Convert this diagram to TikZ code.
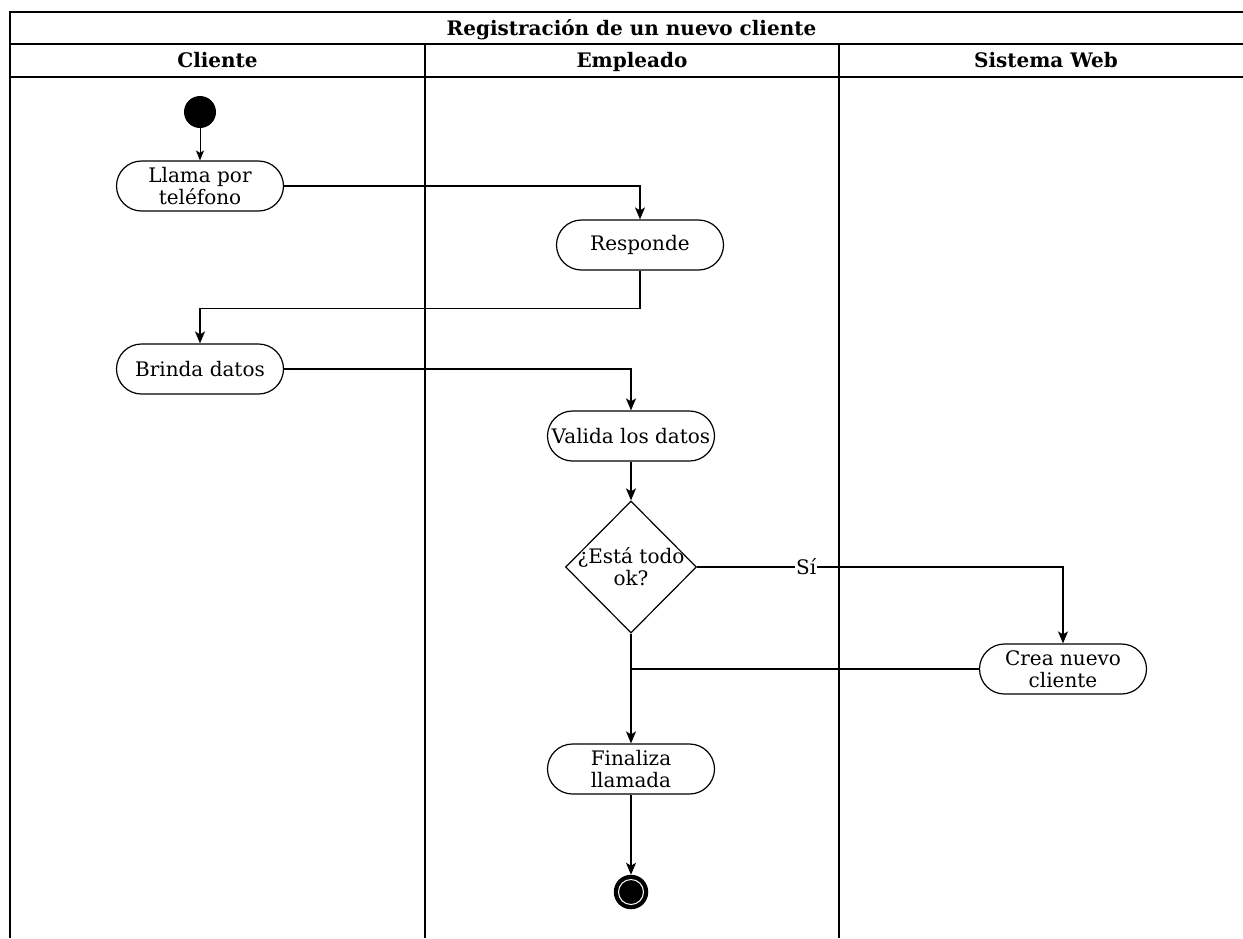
\documentclass[tikz,border=0pt]{standalone}
\usepackage{fontspec}
\setmainfont{DejaVu Serif}
\usetikzlibrary{arrows.meta,shapes.geometric}
\begin{document}
\begin{tikzpicture}[x=1pt,y=-1pt,
  lane/.style={line width=1.5pt},
  txt/.style={font=\fontsize{20}{22}\selectfont, align=center, inner sep=0pt},
  head/.style={font=\bfseries\fontsize{20}{22}\selectfont, inner sep=0pt, anchor=base},
  action/.style={txt, draw, line width=1.2pt, rounded corners=25pt,
    minimum width=167pt, minimum height=50pt},
  decision/.style={draw, diamond, line width=1.2pt, inner sep=0pt,
    minimum width=131pt, minimum height=132pt},
  initial/.style={circle, fill=black, minimum size=32pt, inner sep=0pt},
  final/.style={circle, draw, fill=black, line width=1.5pt, minimum size=33pt, inner sep=0pt},
  flow/.style={line width=1.5pt, -{Stealth[length=12pt,width=10pt,inset=3pt]}},
  thinflow/.style={line width=1pt, -{Stealth[length=10pt,width=8pt,inset=2.5pt]}},
  plain/.style={line width=1.5pt}
]
\useasboundingbox (0,0) rectangle (1243,938);
\clip (0,0) rectangle (1243,938);

% swimlane frame
\draw[lane] (10,938) -- (10,12) -- (1253,12) -- (1253,938);
\draw[lane] (10,44) -- (1253,44);
\draw[lane] (10,77) -- (1253,77);
\draw[lane] (425,44) -- (425,938);
\draw[lane] (839,44) -- (839,938);

\node[head] (title) at (631.5,35) {Registración de un nuevo cliente};
\node[head] (hcli) at (217.5,67) {Cliente};
\node[head] (hemp) at (632,67) {Empleado};
\node[head] (hweb) at (1046,67) {Sistema Web};

% activities
\node[initial] (start) at (200,112) {};
\node[action] (llama) at (200,186) {Llama por\\teléfono};
\node[action] (responde) at (640,245) {Responde};
\node[action] (brinda) at (200,369) {Brinda datos};
\node[action] (valida) at (631,436) {Valida los datos};
\node[decision, label={[txt]center:¿Está todo\\ok?}] (q) at (631,567) {};
\node[action] (crea) at (1063,669) {Crea nuevo\\cliente};
\node[action] (finaliza) at (631,769) {Finaliza\\llamada};
\node[final] (fin) at (631,892) {};
\draw[white, line width=1pt] (fin.center) circle (12.5pt);

% transitions
\draw[thinflow] (start) -- (llama);
\draw[flow] (llama.east) -| (responde.north);
\draw[flow] (responde.south) -- ++(0,38) -| (brinda.north);
\draw[flow] (brinda.east) -| (valida.north);
\draw[flow] (valida) -- (q);
\draw[flow] (q.east) -| node[pos=0.149, txt, fill=white, inner sep=1pt] {Sí} (crea.north);
\draw[plain] (crea.west) -- (crea.west -| q.south);
\draw[flow] (q.south) -- (finaliza.north);
\draw[flow] (finaliza) -- (fin);
\end{tikzpicture}
\end{document}
